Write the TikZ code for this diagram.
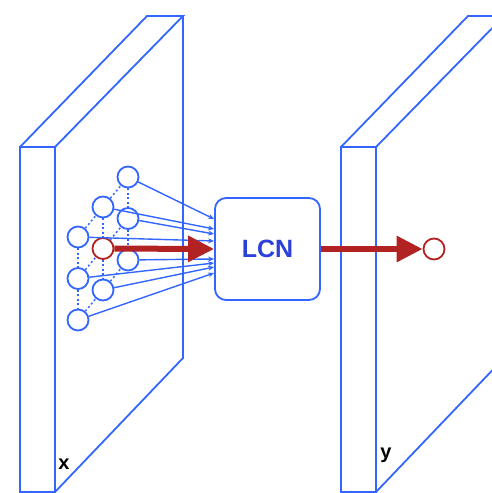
\documentclass[tikz,border=0pt]{standalone}
\usepackage{fontspec}
\setsansfont{Liberation Sans}
\usetikzlibrary{arrows.meta, positioning, calc}
\definecolor{cblue}{HTML}{3366FF}
\definecolor{cnavy}{HTML}{2B3FD9}
\definecolor{cred}{HTML}{B22222}
\tikzset{
  every picture/.style={font=\sffamily, line width=1.8pt},
  slab/.style={draw=cblue, line join=miter},
  unit/.style={circle, draw=#1, fill=white, minimum size=21pt, inner sep=0pt, line width=1.8pt},
  unit/.default=cblue,
  mesh/.style={draw=cblue, dash pattern=on 2pt off 2.5pt, line width=1.5pt},
  link/.style={-{Stealth[length=6pt, width=5pt]}, draw=cblue, line width=1.4pt},
  flow/.style={-{Triangle[length=26pt, width=25pt]}, draw=cred, line width=6pt},
  box/.style={draw=cblue, fill=white, rounded corners=11pt, minimum width=105pt, minimum height=102pt,
    text=cnavy, font=\sffamily\bfseries\fontsize{25}{25}\selectfont},
  tag/.style={font=\sffamily\bfseries\fontsize{20}{20}\selectfont, text=black, inner sep=0pt},
}

\begin{document}
\begin{tikzpicture}[x=1pt, y=-1pt]
  \useasboundingbox (0,0) rectangle (492,493);
  \clip (0,0) rectangle (492,493);
  % the two feature maps
  \foreach \dx in {0, 321} {
    \begin{scope}[xshift=\dx pt]
      \draw[slab] (20,147) rectangle (55,492);
      \draw[slab] (20,147) -- (147,16) -- (183,16) -- (55,147);
      \draw[slab] (183,16) -- (183,358) -- (55,492);
    \end{scope}
  }
  \node[tag] (xlab) at (64,464) {x};
  \node[tag] (ylab) at (386,455) {y};
  % neighbourhood of input units
  \foreach \r/\c/\col in {1/1/cblue, 1/2/cblue, 1/3/cblue, 2/1/cblue, 2/2/cred, 2/3/cblue,
      3/1/cblue, 3/2/cblue, 3/3/cblue} {
    \node[unit=\col] (n\r\c) at ({78+25*(\c-1)}, {237-30*(\c-1)+41.5*(\r-1)}) {};
  }
  \foreach \r/\n in {1/2, 2/3} {
    \foreach \c in {1,2,3} {
      \draw[mesh] (n\r\c) -- (n\n\c);
      \draw[mesh] (n\c\r) -- (n\c\n);
    }
  }
  \node[box] (lcn) at (267.5,249) {LCN};
  \foreach \u/\dy in {13/30, 12/20, 23/15, 11/8, 33/-10, 21/-14, 32/-18, 31/-24} {
    \draw[link] (n\u) -- ([yshift=\dy pt]lcn.west);
  }
  \draw[flow] (n22) -- (lcn.west);
  \node[unit=cred] (out) at (434,249) {};
  \draw[flow] (lcn) -- (out);
\end{tikzpicture}
\end{document}
